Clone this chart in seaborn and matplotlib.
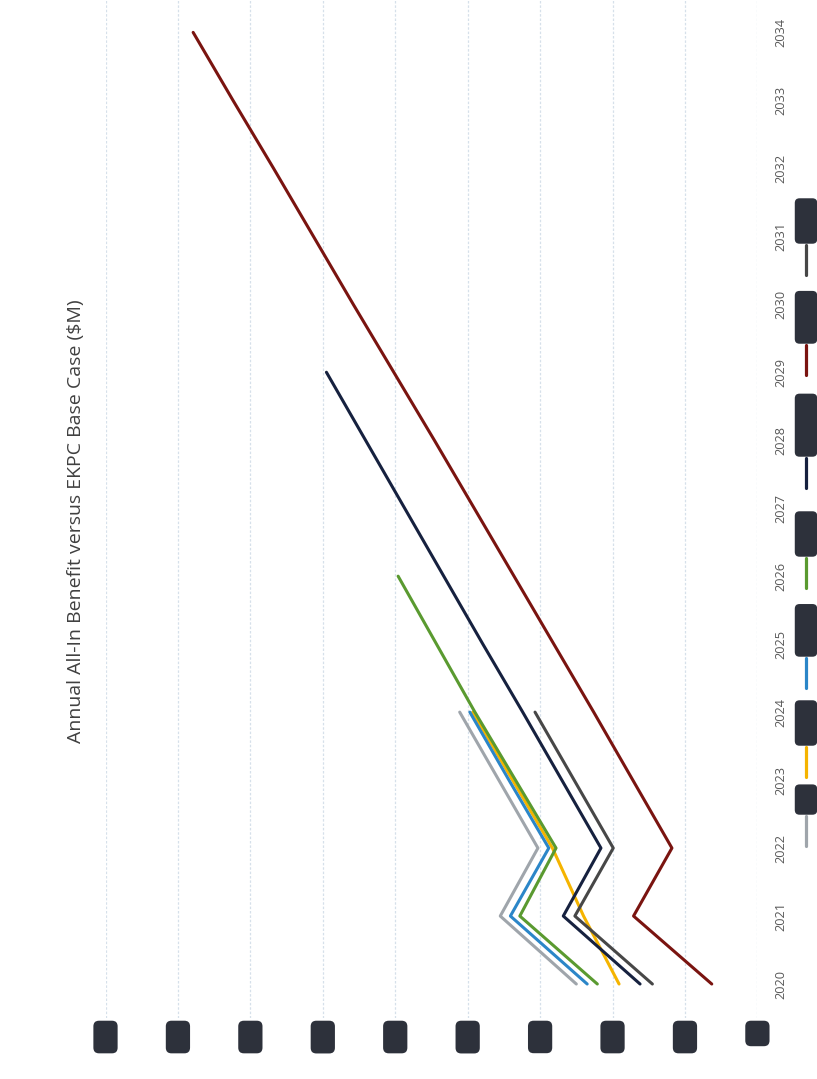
import matplotlib
matplotlib.use("Agg")
import matplotlib.pyplot as plt
from matplotlib.lines import Line2D
import seaborn as sns
import pandas as pd

# ---------------- data ----------------
years = list(range(2020, 2035))
series_names = ["AEP", "Case 2", "Case 3A", "Case 4", "Case 5 Alt", "Case 6A", "Case 7"]
series_colors = ["#9fa5ab", "#f5b400", "#2b86c8", "#5a9a30", "#16213f", "#7a1410", "#474747"]

gray_vals = [25.0, 35.5, 30.3, 35.7, 41.1]
yellow_vals = [19.1, 24.0, 28.3, 33.8, 39.3]
blue_vals = [23.5, 34.1, 28.8, 34.3, 39.7]
green_vals = [22.1, 32.8, 27.8, 33.4, 39.0, 44.3, 49.6]
navy_vals = [16.2, 26.8, 21.6, 27.0, 32.4, 37.9, 43.3, 48.7, 54.1, 59.5]
red_vals = [6.3, 17.1, 11.8, 17.2, 22.6, 28.1, 33.6, 39.1, 44.6, 50.2, 55.8, 61.3, 66.8, 72.4, 77.9]
black_vals = [14.5, 25.2, 19.9, 25.3, 30.7]

value_ticks = [0, 10, 20, 30, 40, 50, 60, 70, 80, 90]
value_tick_labels = ["$" + str(v) for v in value_ticks]
title = "Annual All-In Benefit versus EKPC Base Case ($M)"

all_vals = [gray_vals, yellow_vals, blue_vals, green_vals, navy_vals, red_vals, black_vals]
rows = []
for name, vals in zip(series_names, all_vals):
    for yr, v in zip(years, vals):
        rows.append({"series": name, "year": yr, "value": v})
df = pd.DataFrame(rows)

# ---------------- figure ----------------
sns.set_style("white")
plt.rcParams["font.family"] = ["Open Sans", "DejaVu Sans"]

W, H = 817, 1079
fig = plt.figure(figsize=(W / 100, H / 100), dpi=100)
fig.patch.set_facecolor("white")

def fx(px):
    return px / W

def fy(py):
    return 1 - py / H

left_px, right_px = 105.5, 757.4
top_px, bot_px = -1.6, 1018.0
ax = fig.add_axes([fx(left_px), fy(bot_px), (right_px - left_px) / W, (bot_px - top_px) / H])

pal = dict(zip(series_names, series_colors))
sns.lineplot(data=df, x="value", y="year", hue="series", palette=pal,
             hue_order=series_names, orient="y", estimator=None, legend=False,
             linewidth=2.2, ax=ax, solid_capstyle="round", solid_joinstyle="round")

ax.set_xlim(90, 0)
ax.set_ylim(2019.5, 2034.5)
ax.set_xticks(value_ticks)
ax.set_xticklabels(value_tick_labels, rotation=90, fontsize=9, color="#2d313b",
                   bbox=dict(boxstyle="round,pad=0.45", fc="#2d313b", ec="none"))
ax.set_yticks(years)
ax.set_yticklabels([str(y) for y in years], rotation=90, va="center", fontsize=9.2, color="#595959")
ax.yaxis.tick_right()
ax.tick_params(axis="y", length=0, pad=12)
ax.tick_params(axis="x", length=0, pad=6)
ax.set_xlabel("")
ax.set_ylabel("")
for s in ax.spines.values():
    s.set_visible(False)
ax.grid(axis="x", color="#d6e0ea", linewidth=0.9, linestyle=(0, (2, 1.5)))
ax.grid(axis="y", visible=False)

# title (rotated page)
fig.text(fx(76), fy(521), title, rotation=90, ha="center", va="center",
         fontsize=14, color="#404040")

# legend (drawn along the rotated page's bottom edge)
legend_line_bottoms = [846, 777, 688, 588, 488, 375, 275]
for name, col, yb in zip(series_names, series_colors, legend_line_bottoms):
    fig.add_artist(Line2D([fx(806), fx(806)], [fy(yb), fy(yb - 30)],
                          transform=fig.transFigure, color=col, linewidth=2.3,
                          solid_capstyle="round"))
    fig.text(fx(806), fy(yb - 36), name, rotation=90, ha="center", va="bottom",
             fontsize=8.5, color="#2d313b",
             bbox=dict(boxstyle="round,pad=0.4", fc="#2d313b", ec="none"))

fig.savefig("out.png", dpi=100, facecolor="white")
